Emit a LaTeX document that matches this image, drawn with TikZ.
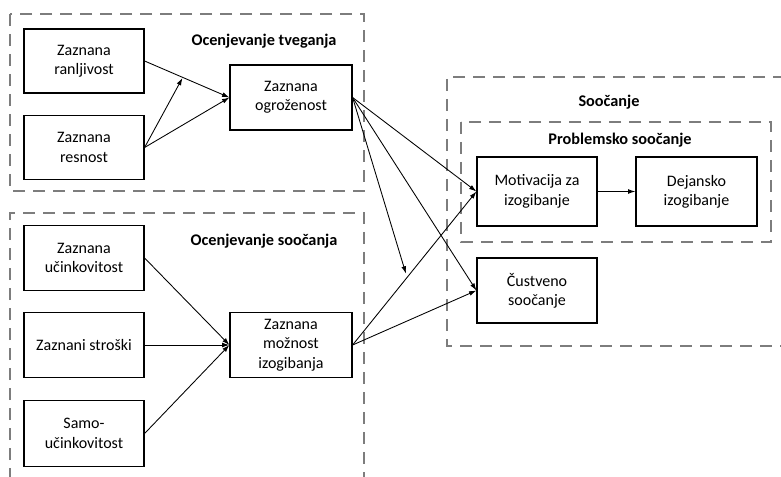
\documentclass[tikz,border=0pt]{standalone}
\usepackage{fontspec}
\setmainfont{Carlito}
\usetikzlibrary{arrows.meta}
\definecolor{dashgray}{RGB}{125,125,125}
\tikzset{
  box/.style={draw=black, line width=0.9pt, fill=white, align=center, inner sep=2pt, font=\fontsize{12}{14.5}\selectfont},
  grp/.style={draw=dashgray, line width=1.5pt, dash pattern=on 9pt off 6pt},
  ttl/.style={font=\fontsize{12.2}{14.5}\selectfont\bfseries, inner sep=0pt},
  arr/.style={draw=black, line width=0.65pt, -{Latex[length=5.5pt,width=3.6pt]}}
}
\begin{document}
\begin{tikzpicture}[x=0.75pt, y=-0.75pt]
\useasboundingbox (0,0) rectangle (781,477);
% group frames
\draw[grp] (10,14) rectangle (364,191);
\draw[grp] (10,480) -- (10,213) -- (364,213) -- (364,480);
\draw[grp] (785,77) -- (447,77) -- (447,346) -- (785,346);
\draw[grp] (461,122) rectangle (771,242);
% titles
\node[ttl] (t1) at (264,41) {Ocenjevanje tveganja};
\node[ttl] (t2) at (264,241) {Ocenjevanje soočanja};
\node[ttl] (t3) at (609,102) {Soočanje};
\node[ttl] (t4) at (620,140) {Problemsko soočanje};
% nodes
\node[box, minimum width=90pt, minimum height=48pt] (ran) at (84,61) {Zaznana\\ranljivost};
\node[box, minimum width=90pt, minimum height=48pt] (res) at (84,147.5) {Zaznana\\resnost};
\node[box, minimum width=91.5pt, minimum height=48.75pt] (og) at (291,97.5) {Zaznana\\ogroženost};
\node[box, minimum width=90pt, minimum height=49pt] (uc) at (84,258) {Zaznana\\učinkovitost};
\node[box, minimum width=90pt, minimum height=49pt] (st) at (84,345) {Zaznani stroški};
\node[box, minimum width=90pt, minimum height=49pt] (sa) at (84,433.5) {Samo-\\učinkovitost};
\node[box, minimum width=91.5pt, minimum height=49pt] (mo) at (291,345) {Zaznana\\možnost\\izogibanja};
\node[box, minimum width=90pt, minimum height=51.75pt] (mot) at (537,191.5) {Motivacija za\\izogibanje};
\node[box, minimum width=90.75pt, minimum height=51.75pt] (dej) at (696.5,191.5) {Dejansko\\izogibanje};
\node[box, minimum width=90pt, minimum height=48.75pt] (cu) at (537,290.5) {Čustveno\\soočanje};
% connectors
\draw[arr] (ran.east) -- coordinate[pos=0.45] (m1) (og.west);
\draw[arr] (res.east) -- (og.west);
\draw[arr, shorten >=0.5pt] (res.east) -- (m1);
\draw[arr] (uc.east) -- (mo.west);
\draw[arr] (st.east) -- (mo.west);
\draw[arr] (sa.east) -- (mo.west);
\draw[arr] (og.east) -- (mot.west);
\draw[arr] (og.east) -- (cu.west);
\draw[arr] (mo.east) -- coordinate[pos=0.44] (m2) (mot.west);
\draw[arr] (mo.east) -- (cu.west);
\draw[arr, shorten >=3pt] (og.east) -- (m2);
\draw[arr] (mot.east) -- (dej.west);
\end{tikzpicture}
\end{document}
